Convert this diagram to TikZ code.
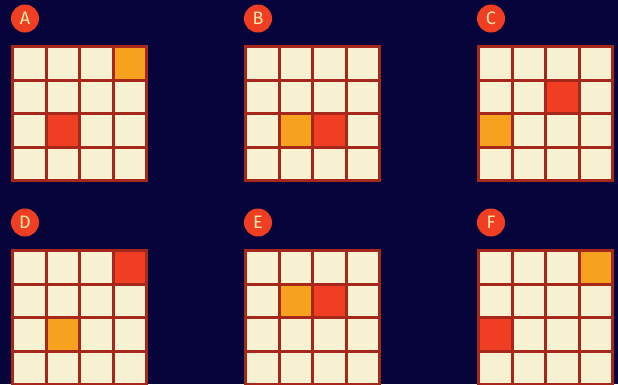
\documentclass[tikz,border=0pt]{standalone}
\usepackage{fontspec}
\setmainfont{Fira Sans}
\usepackage{tikz}
\usetikzlibrary{positioning}
\definecolor{navy}{RGB}{6,4,58}
\definecolor{cream}{RGB}{248,242,210}
\definecolor{gridline}{RGB}{166,40,26}
\definecolor{amber}{RGB}{246,162,30}
\definecolor{hotred}{RGB}{240,62,34}
\definecolor{tagtext}{RGB}{252,234,170}

\begin{document}
\begin{tikzpicture}[x=1pt, y=-1pt,
    tag/.style={circle, fill=hotred, text=tagtext, minimum size=28pt,
                inner sep=0pt, font=\fontsize{18}{18}\selectfont},
    cell/.style={draw=gridline, line width=3pt, minimum size=33.5pt,
                 inner sep=0pt}
]
    \useasboundingbox (0,0) rectangle (618,384);
    \clip (0,0) rectangle (618,384);
    \fill[navy] (0,0) rectangle (618,384);
    % panel / corner / amber cell (col,row) / red cell (col,row)
    \foreach \lbl/\px/\py/\ac/\ar/\rc/\rr in {
        A/11/45/3/0/1/2,
        B/244/45/1/2/2/2,
        C/477/45/0/2/2/1,
        D/11/249/1/2/3/0,
        E/244/249/1/1/2/1,
        F/477/249/3/0/0/2
    }{
        \node[tag] (tag\lbl) at (\px+14,\py-26.5) {\lbl};
        \foreach \r in {0,...,3}{
            \foreach \c in {0,...,3}{
                \def\cellfill{cream}
                \ifnum\r=\ar\ifnum\c=\ac\def\cellfill{amber}\fi\fi
                \ifnum\r=\rr\ifnum\c=\rc\def\cellfill{hotred}\fi\fi
                \node[cell, fill=\cellfill] (\lbl-\r-\c)
                    at ({\px+18.25+33.5*\c},{\py+18.25+33.5*\r}) {};
            }
        }
    }
\end{tikzpicture}
\end{document}
